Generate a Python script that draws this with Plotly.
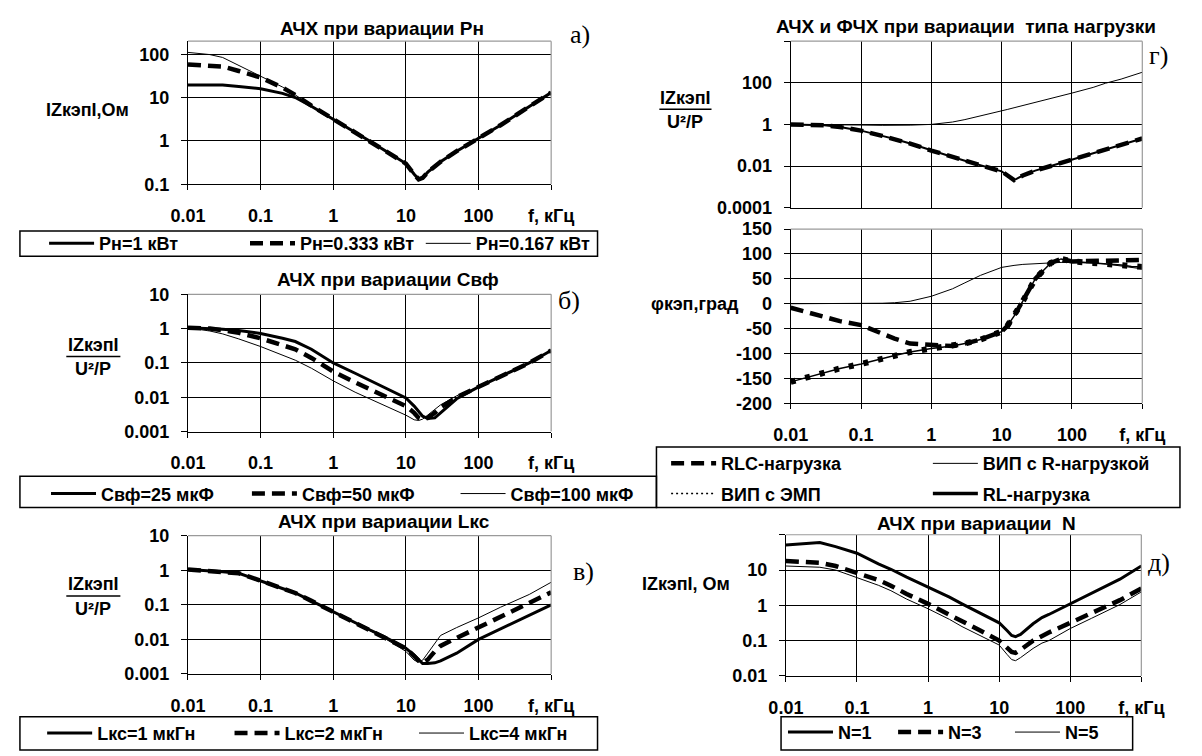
import plotly.graph_objects as go

W, H = 1202, 756
def px(x): return x / W
def py(y): return 1 - y / H

# ---------------- DATA ----------------
# Panel а) |Z| vs f at varied Pн
f_a = [0.01, 0.02, 0.03, 0.05, 0.1, 0.2, 0.3, 0.5, 1, 2, 3, 5, 10, 13, 15, 17, 20, 30, 50, 100, 200, 500, 1000]
z_p1000 = [19.5, 19.5, 19.5, 18, 16, 12.5, 10, 6.3, 3.2, 1.6, 1.05, 0.62, 0.3, 0.17, 0.13, 0.14, 0.19, 0.33, 0.58, 1.15, 2.3, 6.2, 13]
z_p333 = [58, 56, 52, 41, 29, 17, 11.5, 6.5, 3.2, 1.6, 1.05, 0.62, 0.3, 0.17, 0.13, 0.14, 0.19, 0.33, 0.58, 1.15, 2.3, 6.2, 13]
z_p167 = [110, 98, 84, 55, 32, 17.5, 11.5, 6.5, 3.2, 1.6, 1.05, 0.62, 0.3, 0.17, 0.13, 0.14, 0.19, 0.33, 0.58, 1.15, 2.3, 6.2, 13]

# Panel б) normalized |Z| at varied Cвф
f_b = [0.01, 0.02, 0.03, 0.05, 0.1, 0.2, 0.3, 0.5, 1, 2, 3, 5, 10, 13, 15, 17, 20, 25, 30, 50, 100, 200, 500, 1000]
z_c25 = [1.05, 1.0, 0.95, 0.88, 0.72, 0.52, 0.42, 0.25, 0.1, 0.05, 0.033, 0.02, 0.0095, 0.0055, 0.0038, 0.0028, 0.0024, 0.0025, 0.0035, 0.009, 0.02, 0.04, 0.1, 0.23]
z_c50 = [1.05, 1.0, 0.9, 0.75, 0.52, 0.33, 0.25, 0.14, 0.056, 0.027, 0.018, 0.011, 0.0055, 0.0035, 0.0025, 0.0022, 0.0025, 0.0035, 0.005, 0.01, 0.02, 0.04, 0.1, 0.23]
z_c100 = [1.05, 0.85, 0.7, 0.5, 0.3, 0.17, 0.12, 0.07, 0.03, 0.014, 0.0095, 0.006, 0.003, 0.0022, 0.0021, 0.0023, 0.003, 0.0045, 0.006, 0.011, 0.02, 0.04, 0.1, 0.23]

# Panel в) normalized |Z| at varied Lкс
f_c = [0.01, 0.02, 0.03, 0.05, 0.1, 0.2, 0.3, 0.5, 1, 2, 3, 5, 10, 13, 15, 17, 20, 25, 30, 50, 100, 200, 500, 1000]
z_l1 = [1.05, 0.97, 0.9, 0.82, 0.5, 0.3, 0.22, 0.13, 0.062, 0.03, 0.02, 0.012, 0.0055, 0.0035, 0.0025, 0.002, 0.002, 0.0021, 0.0024, 0.004, 0.01, 0.02, 0.05, 0.1]
z_l2 = [1.05, 0.97, 0.9, 0.82, 0.5, 0.3, 0.22, 0.13, 0.062, 0.03, 0.02, 0.012, 0.0055, 0.0033, 0.0024, 0.0021, 0.0026, 0.0045, 0.0065, 0.011, 0.022, 0.045, 0.11, 0.23]
z_l4 = [1.05, 0.97, 0.9, 0.82, 0.5, 0.3, 0.22, 0.13, 0.062, 0.03, 0.02, 0.011, 0.0045, 0.0025, 0.0022, 0.0025, 0.004, 0.008, 0.013, 0.022, 0.042, 0.085, 0.2, 0.45]

# Panel г) |Z| and phase at varied load type
f_d = [0.01, 0.02, 0.03, 0.05, 0.1, 0.2, 0.3, 0.5, 1, 2, 3, 5, 10, 12, 15, 20, 30, 50, 70, 100, 200, 300, 500, 700, 1000]
zg_r = [1.0, 1.0, 1.0, 0.97, 0.93, 0.9, 0.9, 0.92, 1.0, 1.3, 1.7, 2.5, 4.5, 5.2, 6.3, 8, 11, 17, 23, 32, 60, 95, 150, 210, 320]
zg_rlc = [1.0, 0.95, 0.9, 0.75, 0.5, 0.28, 0.2, 0.12, 0.055, 0.027, 0.018, 0.011, 0.0055, 0.0036, 0.0021, 0.0035, 0.006, 0.01, 0.014, 0.02, 0.04, 0.06, 0.1, 0.14, 0.21]
ph_r = [0, 0, 0, 0, 0.5, 1, 2, 5, 15, 30, 42, 57, 73, 75, 77, 79, 81, 82, 83, 83, 82, 80, 76, 73, 70]
ph_rlc = [-8, -20, -27, -35, -43, -60, -70, -80, -82, -85, -80, -72, -56, -45, -25, 5, 50, 82, 90, 85, 86, 86, 87, 88, 88]
ph_emp = [-157, -145, -138, -130, -121, -110, -104, -97, -90, -85, -80, -72, -56, -45, -25, 5, 50, 82, 90, 85, 82, 80, 78, 75, 74]

# Panel д) |Z| at varied N
f_e = [0.01, 0.02, 0.03, 0.05, 0.1, 0.2, 0.3, 0.5, 1, 2, 3, 5, 10, 13, 15, 17, 20, 30, 40, 50, 100, 200, 500, 1000]
z_n1 = [51, 58, 60, 46, 30, 15, 10.5, 6.3, 3.3, 1.7, 1.1, 0.65, 0.32, 0.19, 0.14, 0.13, 0.15, 0.3, 0.45, 0.55, 1.1, 2.2, 5.5, 13]
z_n3 = [18, 17, 16, 13, 8.5, 5.2, 3.6, 2.1, 1.1, 0.55, 0.35, 0.21, 0.1, 0.065, 0.048, 0.045, 0.055, 0.1, 0.14, 0.17, 0.32, 0.6, 1.4, 3]
z_n5 = [13, 12.5, 12, 10, 6.1, 3.7, 2.6, 1.5, 0.8, 0.4, 0.25, 0.15, 0.075, 0.04, 0.029, 0.027, 0.033, 0.06, 0.085, 0.1, 0.22, 0.43, 1.05, 2.4]

x_ticks = [0.01, 0.1, 1, 10, 100, 1000]
x_labels = ['0.01', '0.1', '1', '10', '100', 'f, кГц']

# ---------------- STYLE ----------------
FAM = 'Liberation Sans, Arial, sans-serif'
TICKF = dict(family=FAM, size=18, color='black', weight='bold')
TITF = dict(family=FAM, size=19, color='black', weight='bold')
LEGF = dict(family=FAM, size=18, color='black', weight='bold')
SERIF = dict(family='Liberation Serif, Times New Roman, serif', size=26, color='black')
THICK = dict(color='black', width=3)
DASHED = dict(color='black', width=4.5, dash='13px,7px')
THIN = dict(color='black', width=1)
ITEMW = 45

fig = go.Figure()

def add(x, y, ax, name, line, legend=None, show=False):
    fig.add_trace(go.Scatter(x=x, y=y, mode='lines', line=line, name=name,
                             xaxis='x' + ax, yaxis='y' + ax,
                             legend=legend if legend else 'legend', showlegend=show,
                             hoverinfo='skip'))

# а)
add(f_a, z_p167, '', 'Рн=0.167 кВт', THIN, 'legend3', True)
add(f_a, z_p1000, '', 'Рн=1 кВт', THICK, 'legend', True)
add(f_a, z_p333, '', 'Рн=0.333 кВт', DASHED, 'legend2', True)
# б)
add(f_b, z_c100, '2', 'Свф=100 мкФ', THIN, 'legend6', True)
add(f_b, z_c25, '2', 'Свф=25 мкФ', THICK, 'legend4', True)
add(f_b, z_c50, '2', 'Свф=50 мкФ', DASHED, 'legend5', True)
# в)
add(f_c, z_l4, '3', 'Lкс=4 мкГн', THIN, 'legend9', True)
add(f_c, z_l1, '3', 'Lкс=1 мкГн', THICK, 'legend7', True)
add(f_c, z_l2, '3', 'Lкс=2 мкГн', DASHED, 'legend8', True)
# г) magnitude
add(f_d, zg_r, '4', 'ВИП с R-нагрузкой', THIN)
add(f_d, zg_rlc, '4', 'RL-нагрузка', dict(color='black', width=2))
add(f_d, zg_rlc, '4', 'RLC-нагрузка', DASHED)
# г) phase
add(f_d, ph_r, '5', 'ВИП с R-нагрузкой', THIN, 'legend11', True)
add(f_d, ph_emp, '5', 'RL-нагрузка', dict(color='black', width=1.5))
add(f_d, ph_emp, '5', 'ВИП с ЭМП', dict(color='black', width=6, dash='5px,10px'))
add(f_d, ph_rlc, '5', 'RLC-нагрузка', DASHED, 'legend10', True)
# legend-only entries (sample styles as in the reference legend)
fig.add_trace(go.Scatter(x=[None], y=[None], mode='lines', name='ВИП с ЭМП', xaxis='x5', yaxis='y5',
                         line=dict(color='black', width=1.5, dash='2px,3px'), legend='legend12', showlegend=True))
fig.add_trace(go.Scatter(x=[None], y=[None], mode='lines', name='RL-нагрузка', xaxis='x5', yaxis='y5',
                         line=dict(color='black', width=3.5), legend='legend13', showlegend=True))
# д)
add(f_e, z_n5, '6', 'N=5', THIN, 'legend16', True)
add(f_e, z_n1, '6', 'N=1', THICK, 'legend14', True)
add(f_e, z_n3, '6', 'N=3', DASHED, 'legend15', True)

# ---------------- AXES ----------------
def xaxis(dom, anchor, labels=True):
    return dict(type='log', range=[-2, 3], domain=[px(dom[0]), px(dom[1])], anchor=anchor,
                tickvals=x_ticks, ticktext=x_labels, showticklabels=labels,
                showgrid=True, gridcolor='black', gridwidth=1, zeroline=False,
                showline=True, linecolor='black', linewidth=1.2,
                ticks='outside' if labels else '', ticklen=5, tickcolor='black',
                ticklabelstandoff=10, tickfont=TICKF, fixedrange=True)

def yaxis(dom, anchor, rng, vals, labels, log=True):
    d = dict(range=rng, domain=[py(dom[1]), py(dom[0])], anchor=anchor,
             tickvals=vals, ticktext=labels,
             showgrid=True, gridcolor='black', gridwidth=1, zeroline=False,
             showline=True, linecolor='black', linewidth=1.2,
             ticks='outside', ticklen=6, tickcolor='black',
             ticklabelstandoff=8, tickfont=TICKF, fixedrange=True)
    if log:
        d['type'] = 'log'
    return d

XA = (176, 552)
XG = (800, 1164)
XD = (795, 1163)
YA = (32, 179)
YB = (292, 433)
YC = (540, 682)
YG1 = (32, 203)
YG2 = (225, 404)
YD = (539, 684)
fig.update_layout(
    xaxis=xaxis(XA, 'y'), yaxis=yaxis(YA, 'x', [-1, 2.301], [0.1, 1, 10, 100], ['0.1', '1', '10', '100']),
    xaxis2=xaxis(XA, 'y2'), yaxis2=yaxis(YB, 'x2', [-3, 1], [0.001, 0.01, 0.1, 1, 10], ['0.001', '0.01', '0.1', '1', '10']),
    xaxis3=xaxis(XA, 'y3'), yaxis3=yaxis(YC, 'x3', [-3, 1], [0.001, 0.01, 0.1, 1, 10], ['0.001', '0.01', '0.1', '1', '10']),
    xaxis4=xaxis(XG, 'y4', labels=False), yaxis4=yaxis(YG1, 'x4', [-4, 4], [0.0001, 0.01, 1, 100, 10000], ['0.0001', '0.01', '1', '100', '']),
    xaxis5=xaxis(XG, 'y5'), yaxis5=yaxis(YG2, 'x5', [-200, 150], list(range(-200, 151, 50)), [str(v) for v in range(-200, 151, 50)], log=False),
    xaxis6=xaxis(XD, 'y6'), yaxis6=yaxis(YD, 'x6', [-2, 2], [0.01, 0.1, 1, 10, 100], ['0.01', '0.1', '1', '10', '']),
)

# ---------------- LEGENDS ----------------
def leg(text_x, yc):
    return dict(x=px(text_x - (ITEMW + 26)), y=py(yc), xanchor='left', yanchor='middle', orientation='h',
                bgcolor='rgba(0,0,0,0)', borderwidth=0, font=LEGF, itemclick=False, itemdoubleclick=False,
                tracegroupgap=0, itemwidth=ITEMW)

legs = {
    'legend': leg(98, 240), 'legend2': leg(306, 240), 'legend3': leg(488, 240),
    'legend4': leg(100, 497), 'legend5': leg(308, 497), 'legend6': leg(524, 497),
    'legend7': leg(96, 743), 'legend8': leg(290, 743), 'legend9': leg(481, 743),
    'legend10': leg(742, 466), 'legend11': leg(1013, 466), 'legend12': leg(742, 497), 'legend13': leg(1013, 497),
    'legend14': leg(863, 742), 'legend15': leg(977, 742), 'legend16': leg(1098, 742),
}
fig.update_layout(**legs)

# ---------------- SHAPES ----------------
shapes = []
def box(x0, y0, x1, y1):
    shapes.append(dict(type='rect', xref='paper', yref='paper', x0=px(x0), x1=px(x1), y0=py(y1), y1=py(y0),
                       line=dict(color='black', width=1.5), fillcolor='rgba(0,0,0,0)', layer='above'))

def frame(xd, yd):
    g = dict(color='#9a9a9a', width=1.2)
    shapes.append(dict(type='line', xref='paper', yref='paper', x0=px(xd[0]), x1=px(xd[1]), y0=py(yd[0]), y1=py(yd[0]), line=g, layer='above'))
    shapes.append(dict(type='line', xref='paper', yref='paper', x0=px(xd[1]), x1=px(xd[1]), y0=py(yd[0]), y1=py(yd[1]), line=g, layer='above'))

frame(XA, YA); frame(XA, YB); frame(XA, YC)
frame(XG, YG1); frame(XG, YG2); frame(XD, YD)

box(2, 227, 600, 253)
box(2, 479, 661, 511)
box(2, 726, 600, 760)
box(661, 449, 1203, 511)
box(790, 726, 1154, 760)

# fraction bars
def bar(x0, x1, y):
    shapes.append(dict(type='line', xref='paper', yref='paper', x0=px(x0), x1=px(x1), y0=py(y), y1=py(y),
                       line=dict(color='black', width=1.5)))
bar(50, 106, 356)
bar(50, 106, 602)
bar(664, 718, 102)
fig.update_layout(shapes=shapes)

# ---------------- ANNOTATIONS ----------------
ann = []
def text(x, y, s, font=TICKF, xa='center'):
    ann.append(dict(x=px(x), y=py(y), xref='paper', yref='paper', text=s, showarrow=False,
                    font=font, xanchor=xa, yanchor='middle'))

text(377, 19, 'АЧХ при вариации Рн', TITF)
text(383, 277, 'АЧХ при вариации Свф', TITF)
text(379, 525, 'АЧХ при вариации Lкс', TITF)
text(981, 17, 'АЧХ и ФЧХ при вариации  типа нагрузки', TITF)
text(992, 527, 'АЧХ при вариации  N', TITF)

text(72, 103, 'IZкэпI,Ом')
text(78, 344, 'IZкэпI'); text(78, 369, 'U²/P')
text(78, 590, 'IZкэпI'); text(78, 615, 'U²/P')
text(691, 90, 'IZкэпI'); text(691, 115, 'U²/P')
text(701, 302, 'φкэп,град')
text(692, 590, 'IZкэпI, Ом')

text(582, 25, 'а)', SERIF)
text(570, 298, 'б)', SERIF)
text(585, 577, 'в)', SERIF)
text(1181, 47, 'г)', SERIF)
text(1181, 567, 'д)', SERIF)
fig.update_layout(annotations=ann)

fig.update_layout(width=W, height=H, autosize=False, margin=dict(l=0, r=0, t=0, b=0),
                  paper_bgcolor='white', plot_bgcolor='white', showlegend=True)

fig.write_html('out.html', config={'displayModeBar': False})
